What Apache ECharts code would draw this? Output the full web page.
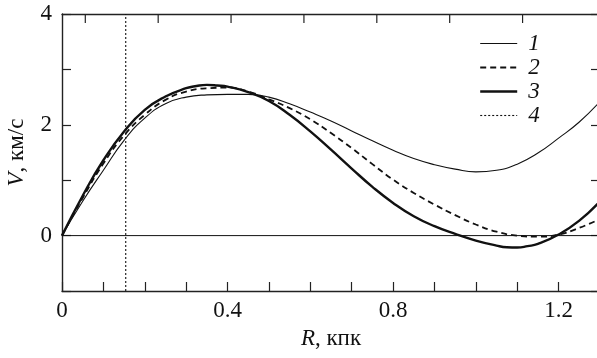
<!DOCTYPE html>
<html><head><meta charset="utf-8">
<script src="https://cdn.jsdelivr.net/npm/echarts@6/dist/echarts.min.js"></script>
<style>html,body{margin:0;padding:0;background:#fff}#c{width:597px;height:358px}</style>
</head><body><div id="c"></div>
<script>
const R = [0,0.05,0.1,0.15,0.2,0.25,0.3,0.35,0.4,0.45,0.5,0.55,0.6,0.65,0.7,0.75,0.8,0.85,0.9,0.95,1.0,1.05,1.1,1.15,1.2,1.25,1.3];
const curve1 = [0,0.62,1.18,1.72,2.12,2.38,2.50,2.54,2.55,2.55,2.50,2.38,2.23,2.07,1.89,1.71,1.54,1.39,1.28,1.20,1.15,1.18,1.29,1.49,1.76,2.05,2.42];
const curve2 = [0,0.68,1.30,1.81,2.18,2.45,2.60,2.66,2.67,2.60,2.46,2.30,2.10,1.85,1.58,1.29,1.01,0.77,0.56,0.37,0.20,0.07,0.00,-0.02,0.02,0.14,0.30];
const R3 = [0,0.05,0.1,0.15,0.2,0.25,0.3,0.325,0.35,0.375,0.4,0.45,0.5,0.55,0.6,0.65,0.7,0.75,0.8,0.85,0.9,0.95,1.0,1.05,1.075,1.1,1.125,1.15,1.2,1.25,1.3];
const curve3 = [0,0.72,1.36,1.88,2.27,2.51,2.66,2.70,2.72,2.71,2.69,2.59,2.43,2.18,1.88,1.55,1.21,0.88,0.59,0.35,0.17,0.03,-0.09,-0.18,-0.21,-0.215,-0.19,-0.15,0.02,0.27,0.62];
const line4R = 0.154;
const yRange = [-1, 4];
const xRange = [0, 1.3];
const xLabels = [0, 0.4, 0.8, 1.2];
const yLabels = [0, 2, 4];
const topTicks = [0.0563,0.2324,0.4085,0.5846,0.7607,0.9368,1.1129];
const legendNames = ['1','2','3','4'];

const gridH = 277, tickPx = 9;
const tickLenData = tickPx * (yRange[1]-yRange[0]) / gridH;
const pts = (xs,a) => xs.map((r,i)=>[r,a[i]]);
const font = "'Liberation Serif', 'Times New Roman', serif";
const axisLine = {show:true, onZero:false, lineStyle:{color:'#222', width:1.4}};
const tick = {show:true, inside:true, length:tickPx, lineStyle:{color:'#222', width:1.2}};
const styles = {
  '1':{color:'#111', width:1.1, type:'solid'},
  '2':{color:'#111', width:1.8, type:[6,4]},
  '3':{color:'#111', width:2.4, type:'solid'},
  '4':{color:'#111', width:1.1, type:[2,2]}
};
const topTickData = [];
topTicks.forEach(t=>{ topTickData.push([t, yRange[1]], [t, yRange[1]-tickLenData], [t, '-']); });

const chart = echarts.init(document.getElementById('c'), null, {renderer:'canvas'});
chart.setOption({
  animation:false,
  backgroundColor:'#fff',
  grid:{left:62, top:14, width:538, height:gridH, containLabel:false, outerBoundsMode:'none'},
  legend:{
    data:legendNames.map(n=>({name:n, lineStyle:styles[n], itemStyle:{opacity:0}})),
    orient:'vertical', left:474, top:27,
    itemWidth:37, itemHeight:14, itemGap:1,
    itemStyle:{opacity:0},
    textStyle:{fontFamily:font, fontSize:23, fontStyle:'italic', color:'#111', padding:[0,0,0,6]}
  },
  xAxis:[
    {type:'value', position:'bottom', min:xRange[0], max:xRange[1], interval:0.1,
     axisLine, splitLine:{show:false}, axisTick:tick,
     axisLabel:{fontFamily:font, fontSize:23, color:'#111', margin:8,
       formatter:v=>{ if (xLabels.some(t=>Math.abs(t-v)<1e-6)) return Math.abs(v)<1e-9?'0':(+v).toFixed(1); return ''; }},
     name:'{i|R}, кпк', nameLocation:'middle', nameGap:36,
     nameTextStyle:{fontFamily:font, fontSize:23, color:'#111', rich:{i:{fontFamily:font, fontSize:23, fontStyle:'italic', color:'#111'}}}
    },
    {type:'value', position:'top', min:xRange[0], max:xRange[1],
     axisLine, splitLine:{show:false}, axisTick:{show:false}, axisLabel:{show:false}
    }
  ],
  yAxis:[
    {type:'value', position:'left', min:yRange[0], max:yRange[1], interval:1,
     axisLine, splitLine:{show:false}, axisTick:tick,
     axisLabel:{fontFamily:font, fontSize:23, color:'#111', margin:10,
       formatter:v=> yLabels.includes(v) ? String(v) : ''},
     name:'{i|V}, км/с', nameLocation:'middle', nameGap:34, nameRotate:90,
     nameTextStyle:{fontFamily:font, fontSize:23, color:'#111', rich:{i:{fontFamily:font, fontSize:23, fontStyle:'italic', color:'#111'}}}
    },
    {type:'value', position:'right', min:yRange[0], max:yRange[1], interval:1,
     axisLine, splitLine:{show:false}, axisTick:tick, axisLabel:{show:false}
    }
  ],
  series:[
    {name:'zero', type:'line', data:[[xRange[0],0],[xRange[1],0]], symbol:'none', silent:true,
     lineStyle:{color:'#111', width:1}},
    {name:'1', type:'line', data:pts(R,curve1), smooth:0.5, symbol:'none', itemStyle:{color:'#111'}, lineStyle:styles['1']},
    {name:'2', type:'line', data:pts(R,curve2), smooth:0.5, symbol:'none', itemStyle:{color:'#111'}, lineStyle:styles['2']},
    {name:'3', type:'line', data:pts(R3,curve3), smooth:0.5, symbol:'none', itemStyle:{color:'#111'}, lineStyle:styles['3']},
    {name:'4', type:'line', data:[[line4R,yRange[0]],[line4R,yRange[1]]], symbol:'none', itemStyle:{color:'#111'}, lineStyle:styles['4']},
    {name:'topTicks', type:'line', data:topTickData, symbol:'none', silent:true, connectNulls:false,
     lineStyle:{color:'#222', width:1.2}}
  ]
});
</script></body></html>
